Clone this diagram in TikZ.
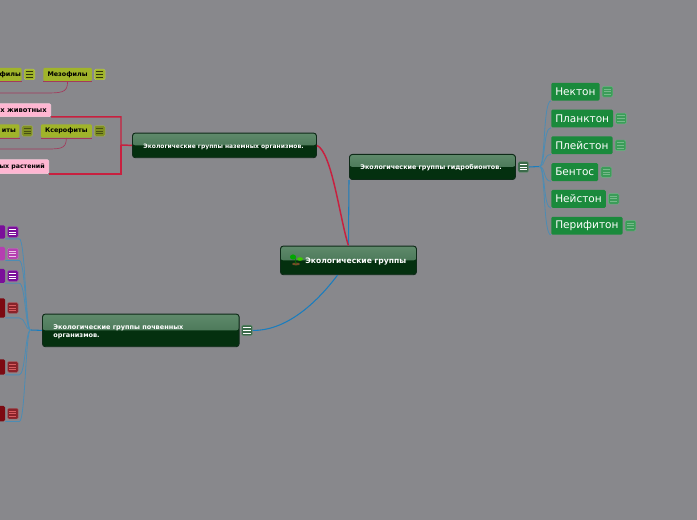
\documentclass[tikz,border=0pt]{standalone}
\usepackage{fontspec}
\setmainfont{DejaVu Sans}
\usepackage{xcolor}
\usetikzlibrary{positioning,calc}
\definecolor{canvasgray}{HTML}{88888C}
\definecolor{topicdark}{HTML}{04300F}
\definecolor{topicedge}{HTML}{0E2A18}
\definecolor{glosstop}{HTML}{5F8A6B}
\definecolor{glossbot}{HTML}{3B6A4A}
\definecolor{leafgreen}{HTML}{1A8A3C}
\definecolor{olive}{HTML}{A0B42A}
\definecolor{pinkbox}{HTML}{FFB6D2}
\definecolor{linkred}{HTML}{C8203F}
\definecolor{linkblue}{HTML}{1A7DBE}
\definecolor{thinblue}{HTML}{4C8CB4}
\definecolor{thinred}{HTML}{A33A5C}
\definecolor{purplebox}{HTML}{7A0F9A}
\definecolor{magentabox}{HTML}{B53FB0}
\definecolor{redbox}{HTML}{7C0A12}
\newcommand{\topicfont}[1]{\bfseries\fontsize{#1}{6}\selectfont}
\begin{document}
\begin{tikzpicture}[x=.75pt,y=-.75pt,
  topic/.style={draw=topicedge,line width=.7pt,rounded corners=2.2pt,fill=topicdark,
                text=white,align=left,inner sep=0pt,anchor=north west,text height=5.4pt,
                path picture={\fill[top color=glosstop,bottom color=glossbot]
                  (path picture bounding box.north west) rectangle (path picture bounding box.east);}},
  leaf/.style={fill=leafgreen,rounded corners=1pt,text=white,font=\fontsize{7.9}{10}\selectfont,
               minimum height=13.4pt,inner sep=0pt,inner xsep=3pt},
  olivebox/.style={fill=olive,rounded corners=1pt,font=\bfseries\fontsize{4.8}{6}\selectfont,
               minimum height=10pt,inner sep=0pt,inner xsep=2.6pt},
  pinknode/.style={fill=pinkbox,draw=pinkbox!70!white,rounded corners=1pt,align=right,
               inner sep=0pt,inner xsep=3pt},
  block/.style={fill=#1,rounded corners=1pt,inner sep=0pt,anchor=north east},
  note/.style n args={2}{fill=#1,draw=#1!75!white,line width=.3pt,rounded corners=1pt,inner sep=0pt,
               minimum width=8pt,minimum height=8pt,
               path picture={\foreach \yy in {-2pt,0pt,2pt}
                 \draw[#2,line width=.6pt]
                   ($(path picture bounding box.center)+(-2.7pt,\yy)$) -- ++(5.4pt,0);}},
  link/.style={linkblue,line width=.8pt},
  thin link/.style={thinblue,line width=.6pt},
  redlink/.style={linkred,line width=1.1pt},
  thin red/.style={thinred,line width=.5pt}]
\useasboundingbox[fill=canvasgray] (0,0) rectangle (697,520);

% main topics
\node[topic,minimum width=102pt,text width=102pt,minimum height=21.5pt,font=\topicfont{5.7}] (root) at (280,245.6) {\hspace*{18.7pt}Экологические группы};
\node[topic,minimum width=124.5pt,text width=124.5pt,minimum height=18.8pt,font=\topicfont{4.8}] (hydro) at (349,154) {\hspace*{8.2pt}Экологические группы гидробионтов.};
\node[topic,minimum width=138pt,text width=138pt,minimum height=18.5pt,font=\topicfont{4.5}] (land) at (132,132.6) {\hspace*{8.2pt}Экологические группы наземных организмов.};
\node[topic,minimum width=147.5pt,text width=147.5pt,minimum height=24.5pt,font=\topicfont{4.9}] (soil) at (42,313.6) {\hspace*{8.2pt}Экологические группы почвенных\\\hspace*{8.2pt}организмов.};
\node[note={glossbot}{white},right=1.4pt of hydro] (hydronote) {};
\node[note={glossbot}{white},right=1.4pt of soil] (soilnote) {};

% sprout on the root topic
\fill[brown!60!black] (296,264) ellipse (4 and 1.4);
\draw[green!45!black,line width=.5pt] (296,264) -- (295,258);
\fill[green!65!black] (293,257) ellipse (3 and 2.6);
\fill[green!70!yellow!80!black] (300,259) ellipse (3 and 1.8);

% hydrobionts
\node[leaf,anchor=north west] (nekton) at (551,82.5) {Нектон};
\node[leaf,below=6.3pt of nekton.south west,anchor=north west] (plankton) {Планктон};
\node[leaf,below=6.3pt of plankton.south west,anchor=north west] (pleiston) {Плейстон};
\node[leaf,below=6.3pt of pleiston.south west,anchor=north west] (bentos) {Бентос};
\node[leaf,below=6.3pt of bentos.south west,anchor=north west] (neiston) {Нейстон};
\node[leaf,below=6.3pt of neiston.south west,anchor=north west] (perifiton) {Перифитон};
\foreach \nm in {nekton,plankton,pleiston,bentos,neiston,perifiton}
  \node[note={leafgreen!85!white}{leafgreen!60!white},right=1.6pt of \nm] (\nm note) {};

% land organisms
\node[olivebox,anchor=north east,align=right,text width=14pt] (hygro) at (22,67.5) {филы};
\node[olivebox,anchor=north west,minimum width=36.5pt] (meso) at (43,67.5) {Мезофилы};
\node[olivebox,anchor=north east,align=right,text width=11.5pt] (meso2) at (19.7,124) {иты};
\node[olivebox,anchor=north west,minimum width=38.4pt] (xero) at (40.5,124) {Ксерофиты};
\node[note={olive}{black!70!olive},right=1.5pt of hygro] (hygronote) {};
\node[note={olive}{black!70!olive},right=1.5pt of meso] (mesonote) {};
\node[note={olive!80!black}{olive!45!black},right=1.5pt of meso2] (meso2note) {};
\node[note={olive!80!black}{olive!45!black},right=1.5pt of xero] (xeronote) {};
\node[pinknode,anchor=north east,text width=35.2pt,minimum height=9.6pt,font=\bfseries\fontsize{5.1}{6}\selectfont] (fauna) at (51,103.5) {х животных};
\node[pinknode,anchor=north east,text width=34.5pt,minimum height=10.4pt,font=\bfseries\fontsize{4.7}{6}\selectfont] (flora) at (49,159.5) {ых растений};

% soil organisms
\node[block=purplebox,minimum width=6pt,minimum height=10pt] (soila) at (5.3,225) {};
\node[block=magentabox,minimum width=6pt,minimum height=10pt] (soilb) at (5.3,246.7) {};
\node[block=purplebox,minimum width=6pt,minimum height=10.5pt] (soilc) at (5.3,268.7) {};
\node[block=redbox,minimum width=6pt,minimum height=14.5pt] (soild) at (5.3,298) {};
\node[block=redbox,minimum width=6pt,minimum height=11.5pt] (soile) at (5.3,359) {};
\node[block=redbox,minimum width=6pt,minimum height=11.5pt] (soilf) at (5.3,405.7) {};
\node[note={purplebox}{white},right=1.5pt of soila] (soilanote) {};
\node[note={magentabox}{white!70!magentabox},right=1.5pt of soilb] (soilbnote) {};
\node[note={purplebox}{white},right=1.5pt of soilc] (soilcnote) {};
\node[note={redbox!90!white}{red!50!white!70!redbox},right=1.5pt of soild] (soildnote) {};
\node[note={redbox!90!white}{red!50!white!70!redbox},right=1.5pt of soile] (soilenote) {};
\node[note={redbox!90!white}{red!50!white!70!redbox},right=1.5pt of soilf] (soilfnote) {};

% connectors from the root
\draw[link] (root.north) -- (hydro.south west);
\draw[redlink] (root.north) .. controls (340,220) and (332,152) .. (land.east);
\draw[link] ($(root.south)+(-11,0)$) .. controls (315,305) and (285,331) .. (soilnote.east);

% hydrobiont connectors
\coordinate (hydrofork) at (539.5,166.5);
\draw[link] (hydronote.east) -- (hydrofork);
\foreach \nm in {nekton,plankton,pleiston,bentos,neiston,perifiton}
  \draw[thin link] (hydrofork) .. controls ($(hydrofork)+(6,0)$) and ($(\nm.south west)+(-8,0)$) .. (\nm.south west);

% land connectors
\coordinate (landfork) at (121,145);
\draw[redlink] (land.west) -- (landfork) |- (fauna.south east);
\draw[redlink] (landfork) |- (flora.south east);
\coordinate (mesoend) at (-4,93);
\coordinate (xeroend) at (-4,149);
\draw[thin red] (meso.south) .. controls ($(meso.south)+(0,12)$) and (62,93) .. (40,93) -- (mesoend);
\draw[thin red] (xero.south) .. controls ($(xero.south)+(0,12)$) and (60,149) .. (40,149) -- (xeroend);
\foreach \nm in {hygro,meso,meso2,xero}
  \draw[thin red] (\nm.south west) -- (\nm.south east);

% soil connectors
\coordinate (soilfork) at (30.5,330);
\draw[link] (soil.west) -- (soilfork);
\foreach \nm in {soila,soilb,soilc,soild,soile,soilf}
  \draw[thin link] (soilfork) .. controls ($(soilfork)+(-5,0)$) and ($(\nm.south east)+(20,0)$) .. ($(\nm.south east)+(14,0)$) -- (\nm.south east);
\end{tikzpicture}
\end{document}
